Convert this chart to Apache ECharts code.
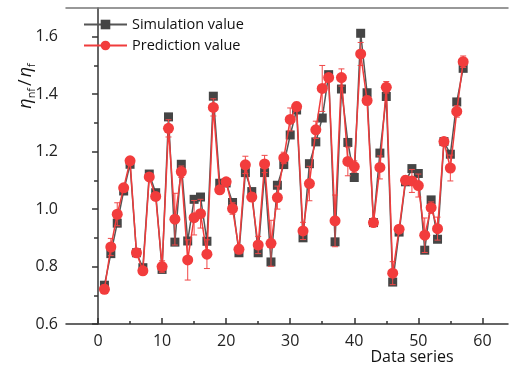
<!DOCTYPE html>
<html>
<head>
<meta charset="utf-8">
<script src="https://cdn.jsdelivr.net/npm/echarts@6/dist/echarts.min.js"></script>
<style>
  html, body { margin: 0; padding: 0; background: #fff; }
  #chart { width: 510px; height: 369px; }
</style>
</head>
<body>
<div id="chart"></div>
<script>
// values
const simulation = [
  0.735, 0.845, 0.951, 1.063, 1.156, 0.848, 0.796, 1.122, 1.057, 0.790,
  1.321, 0.885, 1.156, 0.889, 1.034, 1.042, 0.888, 1.393, 1.090, 1.091,
  1.023, 0.848, 1.127, 1.061, 0.848, 1.127, 0.816, 1.083, 1.155, 1.258,
  1.345, 0.900, 1.158, 1.234, 1.317, 1.468, 0.886, 1.418, 1.232, 1.110,
  1.612, 1.405, 0.953, 1.195, 1.392, 0.746, 0.920, 1.095, 1.141, 1.124,
  0.857, 1.032, 0.895, 1.235, 1.191, 1.373, 1.490
];
const prediction = [
  0.721, 0.868, 0.982, 1.074, 1.168, 0.848, 0.785, 1.112, 1.044, 0.800,
  1.281, 0.965, 1.130, 0.823, 0.970, 0.984, 0.843, 1.354, 1.067, 1.095,
  1.002, 0.860, 1.154, 1.042, 0.875, 1.157, 0.881, 1.040, 1.178, 1.312,
  1.357, 0.924, 1.089, 1.276, 1.420, 1.458, 0.959, 1.458, 1.166, 1.148,
  1.540, 1.378, 0.953, 1.145, 1.424, 0.777, 0.930, 1.100, 1.098, 1.082,
  0.909, 1.005, 0.932, 1.235, 1.143, 1.340, 1.513
];
const predictionError = [
  0.015, 0.03, 0.04, 0.01, 0.01, 0.01, 0.01, 0.01, 0.01, 0.02,
  0.03, 0.09, 0.02, 0.07, 0.06, 0.05, 0.05, 0.03, 0.01, 0.01,
  0.02, 0.015, 0.03, 0.015, 0.03, 0.03, 0.08, 0.04, 0.02, 0.04,
  0.015, 0.03, 0.06, 0.03, 0.08, 0.01, 0.09, 0.03, 0.05, 0.02,
  0.04, 0.015, 0.01, 0.04, 0.02, 0.04, 0.01, 0.015, 0.04, 0.04,
  0.06, 0.02, 0.04, 0.01, 0.045, 0.02, 0.02
];
const xMajorTicks = [0, 10, 20, 30, 40, 50, 60];
const xMinorTicks = [5, 15, 25, 35, 45, 55];
const yMajorTicks = [0.6, 0.8, 1.0, 1.2, 1.4, 1.6];
const yMinorTicks = [0.7, 0.9, 1.1, 1.3, 1.5];

const FONT = "Open Sans";
const dataSeries = simulation.map((_, i) => i + 1);

const chart = echarts.init(document.getElementById("chart"));

const axisColor = "#333";

const option = {
  animation: false,
  textStyle: { fontFamily: FONT },
  grid: { left: 66, right: 2, top: 8, bottom: 45 },
  legend: {
    orient: "vertical",
    left: 78,
    top: 12,
    itemWidth: 43,
    itemHeight: 12,
    itemGap: 6,
    textStyle: { fontFamily: FONT, fontSize: 14.5, color: "#111" },
    data: ["Simulation value", "Prediction value"],
  },
  xAxis: [
    {
      type: "value",
      min: -5,
      max: 64,
      position: "bottom",
      axisLine: { lineStyle: { color: axisColor, width: 1.5 } },
      axisTick: { inside: true, length: 6, customValues: xMajorTicks, lineStyle: { color: axisColor, width: 1.5 } },
      axisLabel: { customValues: xMajorTicks, fontSize: 16, color: "#222", margin: 9 },
      splitLine: { show: false },
    },
    {
      type: "value",
      min: -5,
      max: 64,
      position: "bottom",
      axisLine: { show: false },
      axisTick: { inside: true, length: 3, customValues: xMinorTicks, lineStyle: { color: axisColor, width: 1.5 } },
      axisLabel: { show: false },
      splitLine: { show: false },
    },
    {
      type: "value",
      min: -5,
      max: 64,
      position: "top",
      axisLine: { lineStyle: { color: "#777", width: 1.5 } },
      axisTick: { show: false },
      axisLabel: { show: false },
      splitLine: { show: false },
    },
  ],
  yAxis: [
    {
      type: "value",
      min: 0.6,
      max: 1.7,
      position: "left",
      axisLine: { show: true, lineStyle: { color: axisColor, width: 1.5 } },
      axisTick: { show: true, length: 6, customValues: yMajorTicks, lineStyle: { color: axisColor, width: 1.5 } },
      axisLabel: {
        customValues: yMajorTicks,
        fontSize: 16,
        color: "#222",
        margin: 8,
        formatter: (v) => v.toFixed(1),
      },
      splitLine: { show: false },
    },
    {
      type: "value",
      min: 0.6,
      max: 1.7,
      position: "left",
      axisLine: { show: false },
      axisTick: { show: true, length: 4, customValues: yMinorTicks, lineStyle: { color: axisColor, width: 1.5 } },
      axisLabel: { show: false },
      splitLine: { show: false },
    },
  ],
  graphic: [
    {
      type: "text",
      x: 26,
      y: 86,
      rotation: Math.PI / 2,
      style: {
        text: "{a|η}{b|nf}{c|/}{a|η}{b|f}",
        align: "center",
        verticalAlign: "middle",
        rich: {
          a: { fontFamily: FONT, fontSize: 18, fontStyle: "italic", fill: "#111", lineHeight: 22 },
          b: { fontFamily: FONT, fontSize: 11, fill: "#111", lineHeight: 12, verticalAlign: "bottom" },
          c: { fontFamily: FONT, fontSize: 18, fill: "#111", lineHeight: 22, padding: [0, 2, 0, 2] },
        },
      },
    },
    {
      type: "text",
      x: 412,
      y: 357,
      style: {
        text: "Data series",
        fontFamily: FONT,
        fontSize: 16,
        fill: "#111",
        align: "center",
        verticalAlign: "middle",
      },
    },
  ],
  series: [
    {
      name: "Simulation value",
      type: "line",
      xAxisIndex: 0,
      yAxisIndex: 0,
      data: dataSeries.map((x, i) => [x, simulation[i]]),
      symbol: "rect",
      symbolSize: 9,
      itemStyle: { color: "#454545" },
      lineStyle: { color: "#555", width: 1.5 },
      z: 2,
    },
    {
      name: "errorBars",
      type: "custom",
      xAxisIndex: 0,
      yAxisIndex: 0,
      data: dataSeries.map((x, i) => [x, prediction[i] - predictionError[i], prediction[i] + predictionError[i]]),
      renderItem: (params, api) => {
        const lo = api.coord([api.value(0), api.value(1)]);
        const hi = api.coord([api.value(0), api.value(2)]);
        const cap = 3;
        const style = { stroke: "#f04848", lineWidth: 1 };
        return {
          type: "group",
          children: [
            { type: "line", shape: { x1: lo[0], y1: lo[1], x2: hi[0], y2: hi[1] }, style },
            { type: "line", shape: { x1: lo[0] - cap, y1: lo[1], x2: lo[0] + cap, y2: lo[1] }, style },
            { type: "line", shape: { x1: hi[0] - cap, y1: hi[1], x2: hi[0] + cap, y2: hi[1] }, style },
          ],
        };
      },
      z: 3,
      silent: true,
    },
    {
      name: "Prediction value",
      type: "line",
      xAxisIndex: 0,
      yAxisIndex: 0,
      data: dataSeries.map((x, i) => [x, prediction[i]]),
      symbol: "circle",
      symbolSize: 11,
      itemStyle: { color: "#f23c3c" },
      lineStyle: { color: "#f03c3c", width: 1.5 },
      z: 4,
    },
  ],
};

chart.setOption(option);
</script>
</body>
</html>
